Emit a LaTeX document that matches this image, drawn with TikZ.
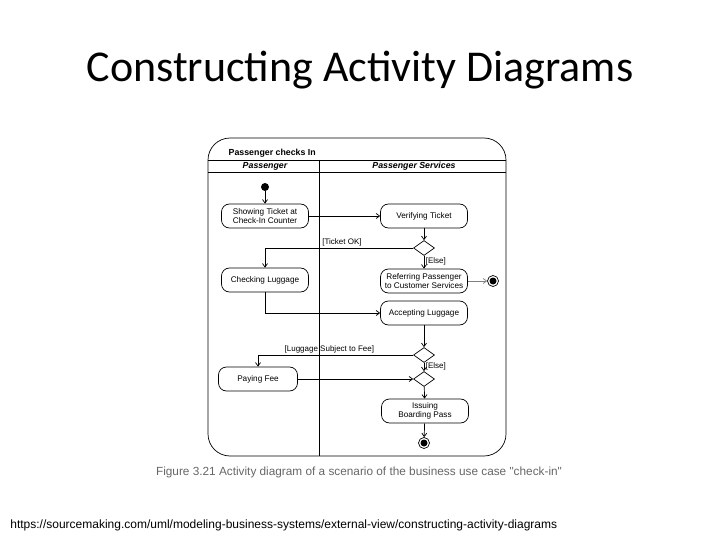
\documentclass[tikz,border=0pt]{standalone}
\usepackage{fontspec}
\setmainfont{Carlito}
\newfontfamily\arialfont{Liberation Sans}
\usetikzlibrary{shapes.geometric,arrows.meta}

\begin{document}
\begin{tikzpicture}[x=1pt,y=-1pt,
  line width=0.7pt,
  >={Straight Barb[length=3.5pt,width=5pt]},
  action/.style={draw,rounded corners=8pt,minimum width=87pt,minimum height=24pt,
    inner sep=1pt,align=center,font=\arialfont\fontsize{8.2}{9}\selectfont},
  decision/.style={draw,diamond,inner sep=0pt,minimum width=21pt,minimum height=15pt},
  guard/.style={font=\arialfont\fontsize{8}{9}\selectfont,inner sep=1.5pt}]

  \useasboundingbox (0,0) rectangle (720,540);

  \node[anchor=base,font=\fontsize{44}{52}\selectfont] (title) at (360,82) {Constructing Activity Diagrams};

  % frame and swimlanes
  \draw[rounded corners=22pt] (208,138) rectangle (506,456);
  \draw (208,160) -- (506,160);
  \draw (208,172) -- (506,172);
  \draw (319,160) -- (319,456);
  \node[anchor=base west,font=\arialfont\bfseries\fontsize{8.8}{9}\selectfont] (act) at (225,156) {Passenger checks In};
  \node[font=\arialfont\bfseries\itshape\fontsize{8.8}{9}\selectfont] (lane1) at (265,166) {Passenger};
  \node[font=\arialfont\bfseries\itshape\fontsize{8.8}{9}\selectfont] (lane2) at (414,166) {Passenger Services};

  % nodes
  \node[circle,fill,inner sep=0pt,minimum size=8pt] (start) at (265,187) {};
  \node[action] (show) at (265,216) {Showing Ticket at\\Check-In Counter};
  \node[action] (verify) at (424,216) {Verifying Ticket};
  \node[decision] (dec1) at (424,248) {};
  \node[action] (check) at (265,280) {Checking Luggage};
  \node[action] (refer) at (424,281) {Referring Passenger\\to Customer Services};
  \node[circle,draw,inner sep=0pt,minimum size=11pt] (end1) at (493,281) {};
  \fill (end1) circle (3.5pt);
  \node[action] (accept) at (424,313) {Accepting Luggage};
  \node[decision] (dec2) at (424,355) {};
  \node[action,minimum width=79pt] (pay) at (258,379) {Paying Fee};
  \node[decision] (merge) at (424,379) {};
  \node[action] (issue) at (425,411) {Issuing\\Boarding Pass};
  \node[circle,draw,inner sep=0pt,minimum size=11pt] (end2) at (424,443) {};
  \fill (end2) circle (3.5pt);

  % flows
  \draw[->] (start) -- (show);
  \draw[->] (show) -- (verify);
  \draw[->] (verify) -- (dec1);
  \draw[->] (dec1.west) -| node[guard,pos=0.24,above] {[Ticket OK]} (check.north);
  \draw[->] (dec1) -- node[guard,pos=0.4,right] {[Else]} (refer);
  \draw[->,black!50] (refer) -- (end1);
  \draw[->] (check.south) |- (accept.west);
  \draw[->] (accept) -- (dec2);
  \draw[->] (dec2.west) -| node[guard,pos=0.27,above] {[Luggage Subject to Fee]} (pay.north);
  \draw[->] (dec2) -- node[guard,pos=0.4,right] {[Else]} (merge);
  \draw[->] (pay) -- (merge);
  \draw[->] (merge) -- (issue);
  \draw[->] (issue) -- (end2);

  \node[font=\arialfont\fontsize{11.8}{13}\selectfont,text=black!60] (caption) at (359,472) {Figure 3.21 Activity diagram of a scenario of the business use case "check-in"};
  \node[anchor=west,font=\arialfont\fontsize{12}{14}\selectfont,inner sep=0pt] (url) at (10,525) {https://sourcemaking.com/uml/modeling-business-systems/external-view/constructing-activity-diagrams};

\end{tikzpicture}
\end{document}
